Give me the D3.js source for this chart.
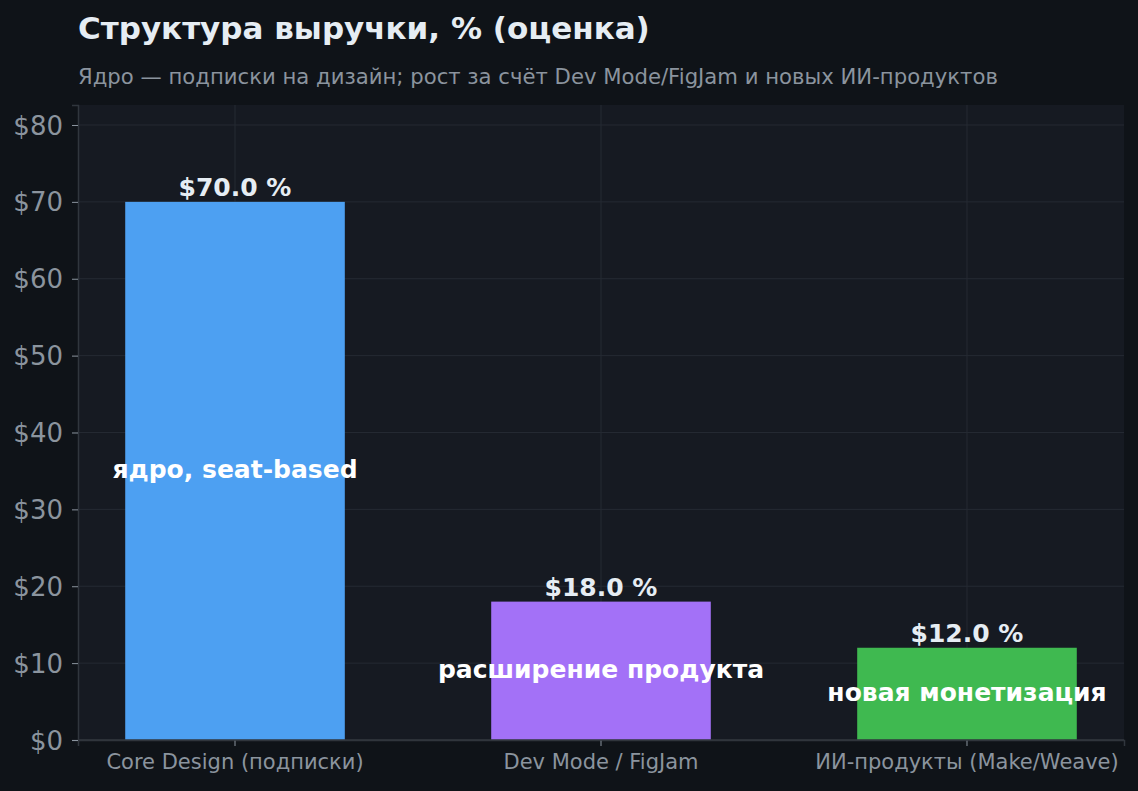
<!DOCTYPE html>
<html>
<head>
<meta charset="utf-8">
<script src="https://cdn.jsdelivr.net/npm/d3@7"></script>
<style>
  body { margin: 0; background: #0f1318; }
  text { font-family: "DejaVu Sans", sans-serif; }
</style>
</head>
<body>
<div id="chart"></div>
<script>
var categories = ['Core Design (подписки)', 'Dev Mode / FigJam', 'ИИ-продукты (Make/Weave)'];
var shares = [70, 18, 12];
var notes = ['ядро, seat-based', 'расширение продукта', 'новая монетизация'];
var colors = ['#4da0f2', '#a371f7', '#3fb950'];
var yTicks = [0, 10, 20, 30, 40, 50, 60, 70, 80];

var svgWidth = 1138;
var svgHeight = 791;
var margin = { top: 105, right: 14, bottom: 51, left: 78 };
var width = svgWidth - margin.left - margin.right;
var height = svgHeight - margin.top - margin.bottom;

var svg = d3.select('#chart')
    .append('svg')
    .attr('width', svgWidth)
    .attr('height', svgHeight);

svg.append('rect')
    .attr('width', svgWidth)
    .attr('height', svgHeight)
    .attr('fill', '#0f1318');

svg.append('text')
    .attr('x', 78)
    .attr('y', 39)
    .attr('fill', '#e6edf3')
    .style('font-size', '31px')
    .style('font-weight', 'bold')
    .text('Структура выручки, % (оценка)');

svg.append('text')
    .attr('x', 78)
    .attr('y', 84)
    .attr('fill', '#8b949e')
    .style('font-size', '21.2px')
    .text('Ядро — подписки на дизайн; рост за счёт Dev Mode/FigJam и новых ИИ-продуктов');

var chartGroup = svg.append('g')
    .attr('transform', `translate(${margin.left}, ${margin.top})`);

chartGroup.append('rect')
    .attr('width', width)
    .attr('height', height)
    .attr('fill', '#161a22');

var xScale = d3.scaleBand()
    .domain(categories)
    .range([0, width])
    .paddingInner(0.4)
    .paddingOuter(0.129);

var yScale = d3.scaleLinear()
    .domain([0, d3.max(shares) * 1.18])
    .range([height, 0]);

// grid
chartGroup.selectAll('.hgrid')
    .data(yTicks)
    .enter()
    .append('line')
    .attr('x1', 0)
    .attr('x2', width)
    .attr('y1', d => yScale(d))
    .attr('y2', d => yScale(d))
    .attr('stroke', '#252a33')
    .attr('stroke-width', 1);

chartGroup.selectAll('.vgrid')
    .data(categories)
    .enter()
    .append('line')
    .attr('x1', d => xScale(d) + xScale.bandwidth() / 2)
    .attr('x2', d => xScale(d) + xScale.bandwidth() / 2)
    .attr('y1', 0)
    .attr('y2', height)
    .attr('stroke', '#252a33')
    .attr('stroke-width', 1);

var xAxis = d3.axisBottom(xScale).tickSize(6).tickPadding(8);
var yAxis = d3.axisLeft(yScale).tickValues(yTicks).tickSize(6).tickPadding(9)
    .tickFormat(d => '$' + d);

var xg = chartGroup.append('g')
    .attr('transform', `translate(0, ${height})`)
    .call(xAxis);
xg.selectAll('text').style('font-size', '21px').attr('fill', '#8b949e');

var yg = chartGroup.append('g')
    .call(yAxis);
yg.selectAll('text').style('font-size', '26px').attr('fill', '#8b949e').attr('dy', '0.35em');

[xg, yg].forEach(function(g) {
    g.select('.domain').attr('stroke', '#30363d').attr('stroke-width', 1.5);
    g.selectAll('.tick line').attr('stroke', '#8b949e');
});

chartGroup.selectAll('.bar')
    .data(shares)
    .enter()
    .append('rect')
    .attr('x', (d, i) => xScale(categories[i]))
    .attr('y', d => yScale(d))
    .attr('width', xScale.bandwidth())
    .attr('height', d => height - yScale(d))
    .attr('fill', (d, i) => colors[i]);

// re-draw bottom spine above bars
chartGroup.append('line')
    .attr('x1', 0).attr('x2', width)
    .attr('y1', height).attr('y2', height)
    .attr('stroke', '#30363d').attr('stroke-width', 1.5);

chartGroup.selectAll('.val')
    .data(shares)
    .enter()
    .append('text')
    .attr('x', (d, i) => xScale(categories[i]) + xScale.bandwidth() / 2)
    .attr('y', d => yScale(d) - 6)
    .attr('text-anchor', 'middle')
    .attr('fill', '#e6edf3')
    .style('font-size', '25px')
    .style('font-weight', 'bold')
    .text(d => '$' + d.toFixed(1) + ' %');

chartGroup.selectAll('.note')
    .data(shares)
    .enter()
    .append('text')
    .attr('x', (d, i) => xScale(categories[i]) + xScale.bandwidth() / 2)
    .attr('y', d => yScale(d / 2))
    .attr('dy', '0.28em')
    .attr('text-anchor', 'middle')
    .attr('fill', '#ffffff')
    .style('font-size', '25px')
    .style('font-weight', 'bold')
    .text((d, i) => notes[i]);
</script>
</body>
</html>
